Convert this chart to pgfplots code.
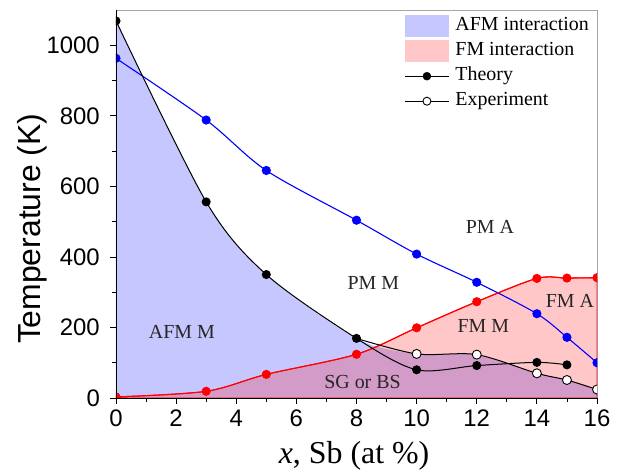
\documentclass[border=0pt]{standalone}
\usepackage{fontspec}
\setmainfont{Liberation Serif}
\setsansfont{Liberation Sans}
\usepackage{pgfplots}
\pgfplotsset{compat=1.18}

\newcommand{\lbl}{\fontsize{20}{24}\selectfont}

\begin{document}
\begin{tikzpicture}
  \begin{axis}[
      width=481bp, height=388bp, scale only axis,
      xmin=0, xmax=16, ymin=0, ymax=1100,
      axis lines=left, axis line style={-, line width=0.9bp},
      axis on top,
      clip mode=individual, clip marker paths=true,
      xtick={0,2,...,16}, minor xtick={1,3,...,15},
      ytick={0,200,...,1000}, minor ytick={100,300,...,900},
      tick align=outside, major tick length=6bp, minor tick length=3.5bp,
      tick style={black, line width=0.8bp},
      /pgf/number format/assume math mode=true,
      /pgf/number format/1000 sep={},
      ticklabel style={font=\sffamily\fontsize{24}{28}\selectfont, inner sep=0pt},
      xticklabel style={yshift=-6bp},
      yticklabel style={xshift=-10bp},
      ylabel={Temperature (K)},
      ylabel style={font=\sffamily\fontsize{32}{36}\selectfont,
        at={(axis description cs:-0.175,0.436)}, anchor=center, rotate=0},
      xlabel={\textit{x}, Sb (at \%)},
      xlabel style={font=\fontsize{32}{36}\selectfont,
        at={(axis description cs:0.495,-0.149)}, anchor=center},
      legend style={at={(rel axis cs:1,1)}, anchor=north east,
        xshift=-8bp, yshift=-5bp, draw=none, fill=none, inner sep=0pt,
        font=\lbl, row sep=3bp, column sep=6bp,
        nodes={inner sep=0pt, text height=15bp, text depth=7bp}},
      legend cell align=left,
    ]
    \coordinate (bl) at (rel axis cs:0,0);
    \coordinate (tr) at (rel axis cs:1,1);
    \draw[gray!70, line width=0.8bp] (rel axis cs:0,1) -- (rel axis cs:1,1) -- (rel axis cs:1,0);

    % AFM region: below theory up to x=8, then experiment
    \addplot[forget plot, draw=none, fill=blue, fill opacity=0.22, smooth] coordinates {
      (0,1070) (3,556) (5,350) (8,169) (10,125) (12,122) (14,70) (15,52) (16,25)
    } \closedcycle;
    % FM region
    \addplot[forget plot, draw=red, line width=1bp, fill=red, fill opacity=0.22, draw opacity=1, smooth] coordinates {
      (0,3) (3,19) (5,67) (8,124) (10,199) (12,273) (14,339) (15,340) (16,341)
    } \closedcycle;

    % PM boundary
    \addplot[forget plot, blue, line width=1.1bp, smooth, mark=*, mark size=4bp,
      mark options={fill=blue, draw=blue}] coordinates {
      (0,963) (3,788) (5,645) (8,504) (10,408) (12,328) (14,239) (15,172) (16,100)
    };
    % FM boundary
    \addplot[forget plot, red, line width=1.1bp, smooth, mark=*, mark size=4bp,
      mark options={fill=red, draw=red}] coordinates {
      (0,3) (3,19) (5,67) (8,124) (10,199) (12,273) (14,339) (15,340) (16,341)
    };
    % theory
    \addplot[forget plot, black, line width=1bp, smooth, mark=*, mark size=4bp,
      mark options={fill=black}] coordinates {
      (0,1069) (3,556) (5,350) (8,169) (10,80) (12,92) (14,101) (15,94)
    };
    % experiment
    \addplot[forget plot, black, line width=1bp, smooth, mark=*, mark size=4.5bp,
      mark options={fill=white, line width=0.9bp}, mark indices={2,3,4,5,6}] coordinates {
      (8,169) (10,125) (12,123) (14,70) (15,51) (16,24)
    };

    \node[font=\lbl, text=black!85] at (axis cs:2.19,188) {AFM M};
    \node[font=\lbl, text=black!85] at (axis cs:8.56,325) {PM M};
    \node[font=\lbl, text=black!85] at (axis cs:12.44,484) {PM A};
    \node[font=\lbl, text=black!85] at (axis cs:12.22,204) {FM M};
    \node[font=\lbl, text=black!85] at (axis cs:15.1,276) {FM A};
    \node[font=\lbl, text=black!85] at (axis cs:8.2,44) {SG or BS};

    \addlegendimage{legend image code/.code={\path[draw=none, fill=blue, fill opacity=0.22] (0bp,-11bp) rectangle (44bp,11bp);}}
    \addlegendentry{AFM interaction}
    \addlegendimage{legend image code/.code={\path[draw=none, fill=red, fill opacity=0.22] (0bp,-11bp) rectangle (44bp,11bp);}}
    \addlegendentry{FM interaction}
    \addlegendimage{legend image code/.code={\draw[black, line width=1bp] (0bp,0bp) -- (44bp,0bp);
        \fill[black] (22bp,0bp) circle (4bp);}}
    \addlegendentry{Theory}
    \addlegendimage{legend image code/.code={\draw[black, line width=1bp] (0bp,0bp) -- (44bp,0bp);
        \filldraw[fill=white, draw=black, line width=0.9bp] (22bp,0bp) circle (4bp);}}
    \addlegendentry{Experiment}
  \end{axis}
  \path ([xshift=-116bp,yshift=-77bp]bl) rectangle ([xshift=26bp,yshift=10bp]tr);
\end{tikzpicture}
\end{document}
